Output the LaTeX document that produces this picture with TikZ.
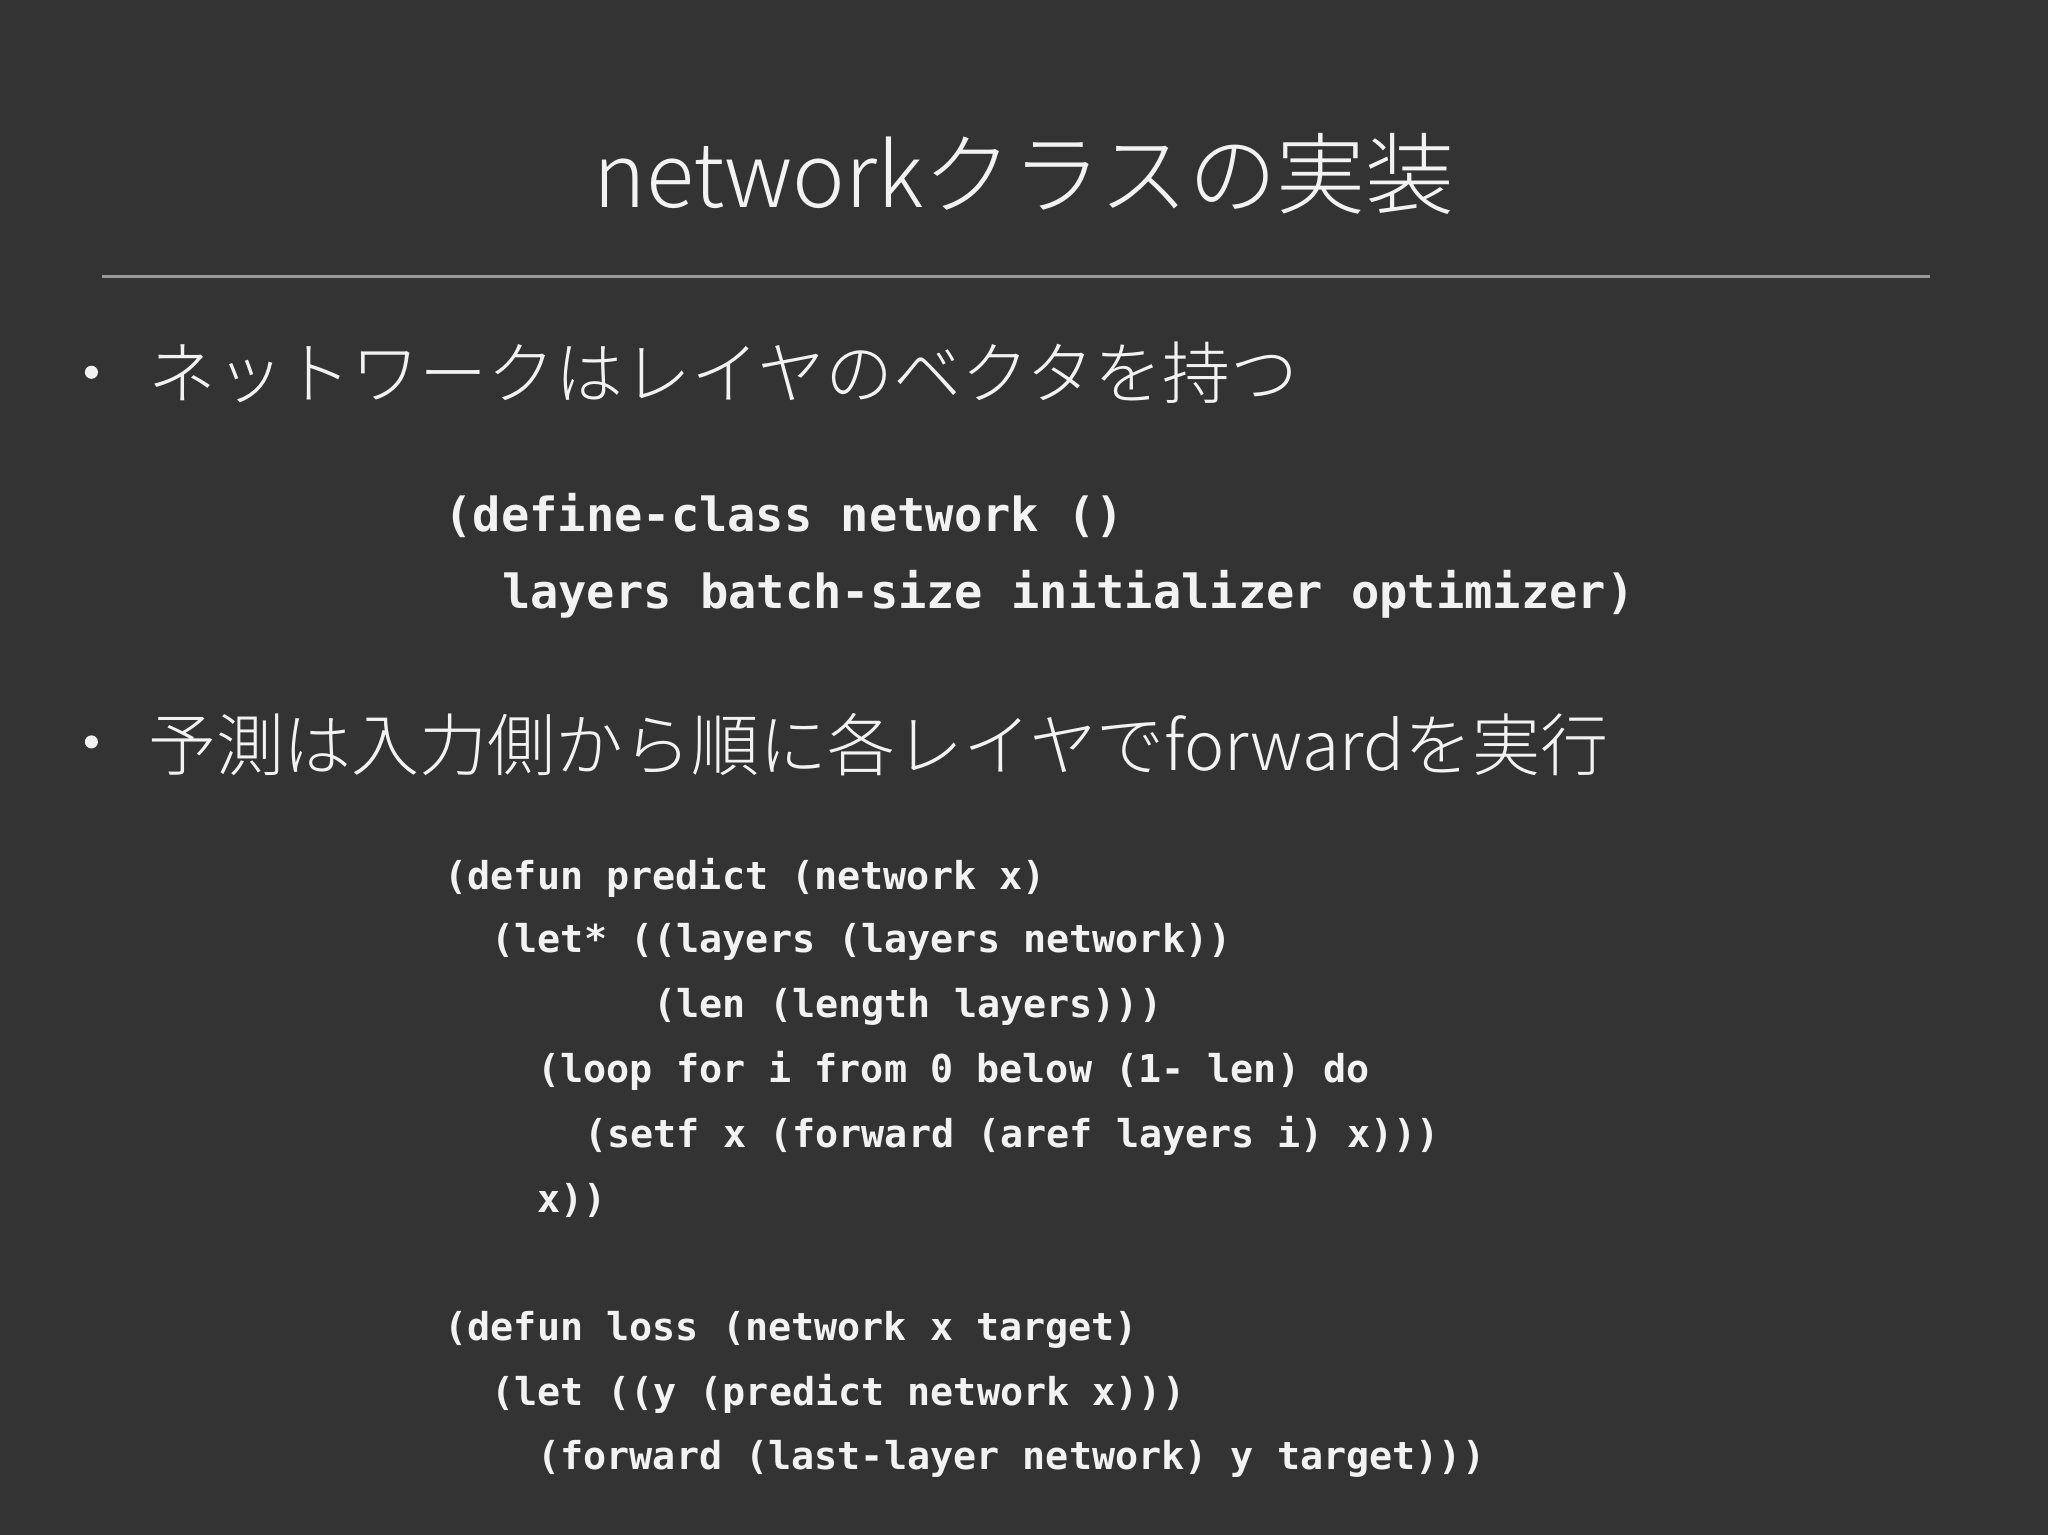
\documentclass[tikz,border=0pt]{standalone}
\usepackage{fontspec}
\newfontfamily\cjk{Noto Sans CJK JP Light}
\newfontfamily\cjkr{Noto Sans CJK JP}
\newfontfamily\code{DejaVu Sans Mono}
\definecolor{bg}{HTML}{333333}
\definecolor{fg}{HTML}{F2F2F2}
\begin{document}
\begin{tikzpicture}[x=0.5pt,y=-0.5pt,
  every node/.style={inner sep=0pt,text=fg},
  codeA/.style={anchor=west,font=\code\bfseries\fontsize{18}{20}\selectfont},
  codeB/.style={anchor=west,font=\code\bfseries\fontsize{14.7}{17}\selectfont},
  bul/.style={anchor=west,font=\cjk\fontsize{26}{30}\selectfont},
  dot/.style={circle,fill=fg,minimum size=5pt}]
\fill[bg] (0,0) rectangle (1568,1175);
\useasboundingbox (0,0) rectangle (1568,1175);
\node (title) at (784,133) {\cjk\fontsize{34}{40}\selectfont networkクラスの実装};
\draw[gray!80,line width=1.2pt] (78,212) -- (1478,212);
\node[dot] (b1) at (70,285) {};
\node[bul] (t1) at (113,285) {ネットワークはレイヤのベクタを持つ};
\node[codeA] (a1) at (340,395) {(define-class network ()};
\node[codeA] (a2) at (384,455) {layers batch-size initializer optimizer)};
\node[dot] (b2) at (70,568) {};
\node[bul] (t2) at (113,570) {予測は入力側から順に各レイヤでforwardを実行};
\node[codeB] (p1) at (340,672) {(defun predict (network x)};
\node[codeB] (p2) at (376,721) {(let* ((layers (layers network))};
\node[codeB] (p3) at (500,771) {(len (length layers)))};
\node[codeB] (p4) at (411,820) {(loop for i from 0 below (1- len) do};
\node[codeB] (p5) at (447,870) {(setf x (forward (aref layers i) x)))};
\node[codeB] (p6) at (411,919) {x))};
\node[codeB] (l1) at (340,1018) {(defun loss (network x target)};
\node[codeB] (l2) at (376,1067) {(let ((y (predict network x)))};
\node[codeB] (l3) at (411,1117) {(forward (last-layer network) y target)))};
\end{tikzpicture}
\end{document}
